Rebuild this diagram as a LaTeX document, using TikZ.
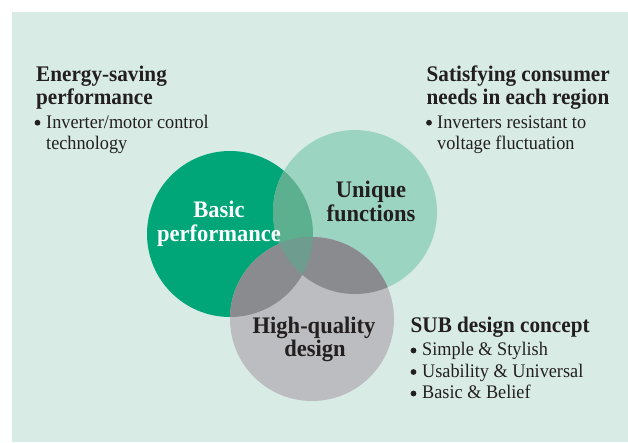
\documentclass[tikz,border=0pt]{standalone}
\usepackage{fontspec}
\setmainfont[FakeStretch=0.95]{Liberation Serif}
\definecolor{bgc}{HTML}{D8ECE5}
\definecolor{cA}{HTML}{00A677}
\definecolor{cB}{HTML}{9CD4C2}
\definecolor{cC}{HTML}{BCBDC0}
\definecolor{cAB}{HTML}{5CB08F}
\definecolor{cXC}{HTML}{8A8B8F}
\definecolor{cABC}{HTML}{6E9C8E}
\definecolor{ink}{HTML}{231F20}
\tikzset{
  head/.style={anchor=base west, inner sep=0pt, font=\fontsize{22.3}{24}\selectfont\bfseries, text=ink},
  body/.style={anchor=base west, inner sep=0pt, font=\fontsize{19.2}{21}\selectfont, text=ink},
  clab/.style={anchor=base, inner sep=0pt, font=\fontsize{23.7}{26}\selectfont\bfseries, text=ink},
  bul/.style={circle, fill=ink, minimum size=5.8pt, inner sep=0pt},
}
\begin{document}
\begin{tikzpicture}[x=1pt,y=-1pt]
\useasboundingbox (0,0) rectangle (628,442);
\fill[bgc] (12,12) rectangle (628,442);
% circles
\def\pA{(230,234) circle (83)}
\def\pB{(355,212) circle (82)}
\def\pC{(312,319) circle (82)}
\fill[cA] \pA;
\fill[cB] \pB;
\fill[cC] \pC;
\begin{scope}\clip \pA; \fill[cAB] \pB; \end{scope}
\begin{scope}\clip \pA; \fill[cXC] \pC; \end{scope}
\begin{scope}\clip \pB; \fill[cXC] \pC; \end{scope}
\begin{scope}\clip \pA; \clip \pB; \fill[cABC] \pC; \end{scope}
% circle labels
\node[clab, text=white] (bp1) at (219,217) {Basic};
\node[clab, text=white] (bp2) at (219,241) {performance};
\node[clab] (uf1) at (371,197) {Unique};
\node[clab] (uf2) at (371,221) {functions};
\node[clab] (hq1) at (314,333) {High-quality};
\node[clab] (hq2) at (315,356) {design};
% top left
\node[head] (el1) at (36,81) {Energy-saving};
\node[head] (el2) at (36,104) {performance};
\node[bul] (eb0) at (37.5,122.7) {};
\node[body] (eb1) at (46,128.5) {Inverter/motor control};
\node[body] (eb2) at (46,149) {technology};
% top right
\node[head] (sr1) at (426.5,81) {Satisfying consumer};
\node[head] (sr2) at (426.5,104) {needs in each region};
\node[bul] (sb0) at (429,122.7) {};
\node[body] (sb1) at (437,128.5) {Inverters resistant to};
\node[body] (sb2) at (437,149) {voltage fluctuation};
% bottom right
\node[head] (su1) at (410.5,332) {SUB design concept};
\node[bul] (sc1) at (413.5,350.5) {};
\node[bul] (sc2) at (413.5,372) {};
\node[bul] (sc3) at (413.5,393.5) {};
\node[body] (su2) at (422,355.5) {Simple \& Stylish};
\node[body] (su3) at (422,377) {Usability \& Universal};
\node[body] (su4) at (422,398.5) {Basic \& Belief};
\end{tikzpicture}
\end{document}
